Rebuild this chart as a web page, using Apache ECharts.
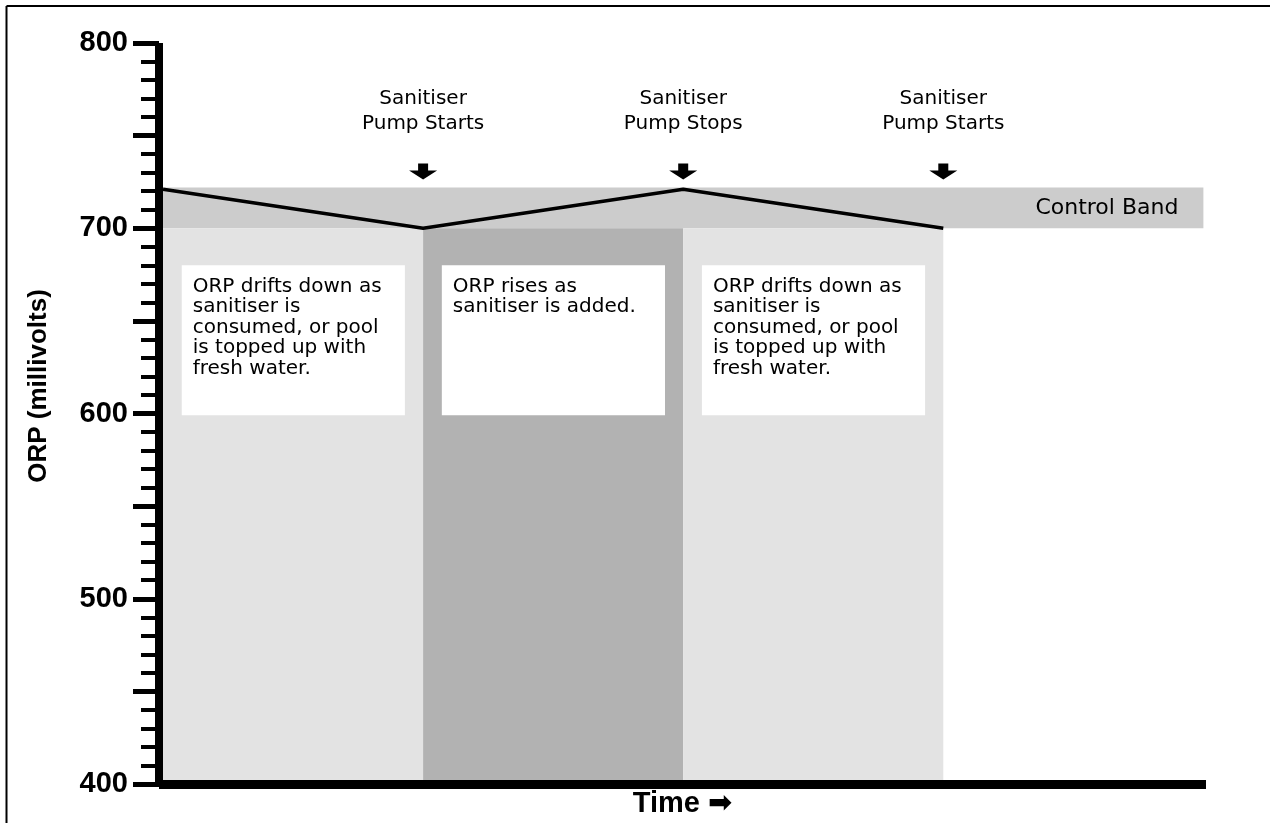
<!DOCTYPE html>
<html>
<head>
<meta charset="utf-8">
<title>ORP control band</title>
<script src="https://cdn.jsdelivr.net/npm/echarts@6/dist/echarts.min.js"></script>
<style>
  html, body { margin: 0; padding: 0; background: #fff; }
  #chart { width: 1270px; height: 823px; }
</style>
</head>
<body>
<div id="chart"></div>
<script>
// ORP trace (time in pump cycles, value in millivolts)
var orpTime = [0, 1, 2, 3];
var orpValues = [721, 700, 721, 700];

// control band
var bandLow = 700;
var bandHigh = 722;
var bandEnd = 4;

// phases below the band
var phaseStart = [0, 1, 2];
var phaseEnd = [1, 2, 3];
var phaseFloor = 400;

// notes inside each phase
var noteLow = 599;
var noteHigh = 680;
var noteTexts = [
  'ORP drifts down as\nsanitiser is\nconsumed, or pool\nis topped up with\nfresh water.',
  'ORP rises as\nsanitiser is added.',
  'ORP drifts down as\nsanitiser is\nconsumed, or pool\nis topped up with\nfresh water.'
];

// pump events
var pumpTimes = [1, 2, 3];
var pumpLabels = ['Sanitiser\nPump Starts', 'Sanitiser\nPump Stops', 'Sanitiser\nPump Starts'];

// y axis
var yMin = 400;
var yMax = 800;
var yStep = 50;
var yLabelStep = 100;

(function () {
  'use strict';

  var dom = document.getElementById('chart');
  var chart = echarts.init(dom);

  var phaseColors = ['#e3e3e3', '#b2b2b2', '#e3e3e3'];
  var phaseAreas = phaseStart.map(function (s, i) {
    return [
      { xAxis: s, yAxis: phaseFloor, itemStyle: { color: phaseColors[i] } },
      { xAxis: phaseEnd[i], yAxis: bandLow }
    ];
  });

  var noteAreas = phaseStart.map(function (s, i) {
    return [
      { xAxis: s + 0.072, yAxis: noteLow, name: noteTexts[i] },
      { xAxis: phaseEnd[i] - 0.07, yAxis: noteHigh }
    ];
  });

  var arrowPath = 'path://M9,0 L19,0 L19,7 L28,7 L14,16 L0,7 L9,7 Z';

  chart.setOption({
    animation: false,
    backgroundColor: '#fff',
    // left edge sits under the middle of the thick y axis line
    grid: { left: 159, right: 64, top: 43, bottom: 38 },
    xAxis: {
      type: 'value',
      min: -0.0154,
      max: 4.01,
      z: 10,
      name: 'Time \u27A1',
      nameLocation: 'middle',
      nameGap: 5,
      nameTextStyle: { color: '#000', fontFamily: 'Liberation Sans, DejaVu Sans', fontWeight: 'bold', fontSize: 29, verticalAlign: 'top' },
      axisLine: { onZero: false, lineStyle: { color: '#000', width: 9, cap: 'butt' } },
      axisTick: { show: false },
      axisLabel: { show: false },
      splitLine: { show: false }
    },
    yAxis: {
      type: 'value',
      min: yMin,
      max: yMax,
      interval: yStep,
      z: 10,
      axisLine: { show: true, onZero: false, lineStyle: { color: '#000', width: 8, cap: 'butt' } },
      axisTick: { show: true, length: 26, lineStyle: { color: '#000', width: 5 } },
      minorTick: { show: true, splitNumber: 5, length: 18, lineStyle: { color: '#000', width: 4 } },
      axisLabel: {
        margin: 31,
        color: '#000',
        fontFamily: 'Liberation Sans, Arial',
        fontWeight: 'bold',
        fontSize: 29,
        formatter: function (v) { return v % yLabelStep === 0 ? String(v) : ''; }
      },
      splitLine: { show: false },
      minorSplitLine: { show: false }
    },
    graphic: [
      { type: 'line', shape: { x1: 6.5, y1: 6, x2: 1270, y2: 6 }, style: { stroke: '#000', lineWidth: 2 } },
      { type: 'line', shape: { x1: 6.5, y1: 6, x2: 6.5, y2: 823 }, style: { stroke: '#000', lineWidth: 2 } },
      {
        type: 'text',
        x: 39,
        y: 386,
        rotation: Math.PI / 2,
        style: {
          text: 'ORP (millivolts)',
          font: 'bold 26px "Liberation Sans", Arial',
          fill: '#000',
          align: 'center',
          verticalAlign: 'middle'
        }
      }
    ],
    series: [
      {
        type: 'line',
        z: 1,
        data: [],
        markArea: {
          silent: true,
          data: [[
            { xAxis: 0, yAxis: bandLow, name: 'Control Band', itemStyle: { color: '#cccccc' } },
            { xAxis: bandEnd, yAxis: bandHigh }
          ]].concat(phaseAreas),
          label: {
            show: true,
            position: 'insideRight',
            distance: 25,
            color: '#000',
            fontFamily: 'DejaVu Sans',
            fontSize: 22,
            formatter: function (p) { return p.name || ''; }
          }
        }
      },
      {
        type: 'line',
        z: 2,
        data: [],
        markArea: {
          silent: true,
          itemStyle: { color: '#fff' },
          data: noteAreas,
          label: {
            show: true,
            position: 'insideTopLeft',
            distance: 11,
            color: '#000',
            fontFamily: 'DejaVu Sans',
            fontSize: 20,
            lineHeight: 20.5,
            formatter: '{b}'
          }
        }
      },
      {
        type: 'line',
        z: 3,
        data: orpTime.map(function (t, i) { return [t, orpValues[i]]; }),
        showSymbol: false,
        lineStyle: { color: '#000', width: 3.5 },
        markPoint: {
          silent: true,
          symbol: arrowPath,
          symbolSize: [28, 16],
          symbolOffset: [0, -16],
          itemStyle: { color: '#000' },
          label: {
            show: true,
            position: 'top',
            distance: 27,
            color: '#000',
            fontFamily: 'DejaVu Sans',
            fontSize: 20,
            lineHeight: 25,
            align: 'center',
            formatter: '{b}'
          },
          data: pumpTimes.map(function (t, i) {
            return { coord: [t, bandHigh], name: pumpLabels[i] };
          })
        }
      }
    ]
  });

  window.addEventListener('resize', function () { chart.resize(); });
})();
</script>
</body>
</html>
